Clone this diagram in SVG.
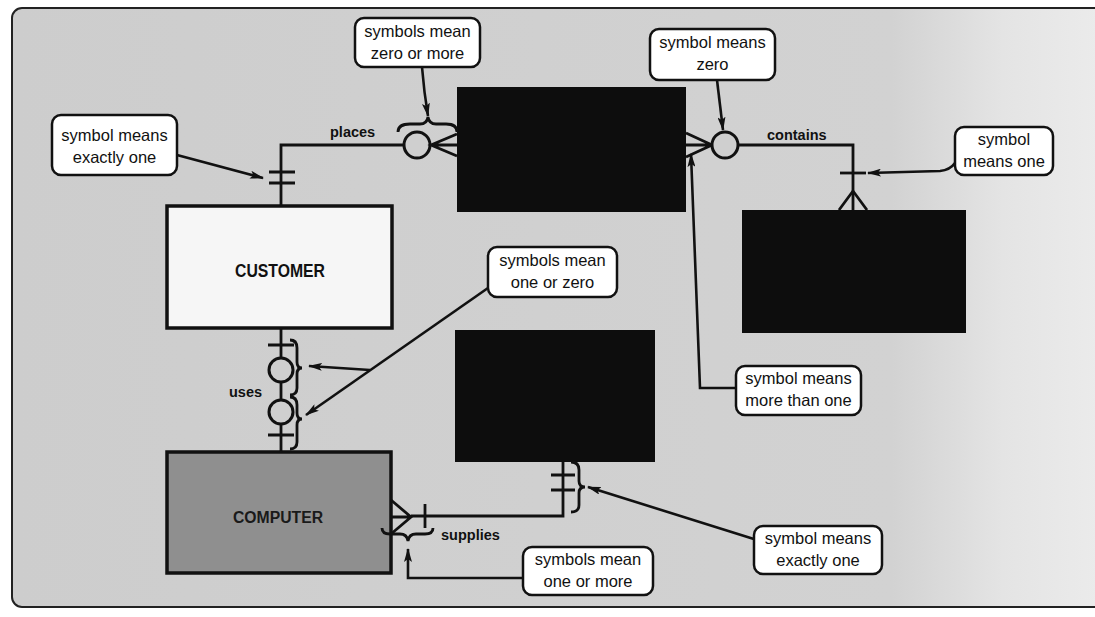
<svg xmlns="http://www.w3.org/2000/svg" width="1095" height="617" viewBox="0 0 1095 617">
<defs>
  <linearGradient id="bg" x1="0" y1="0" x2="1" y2="0">
    <stop offset="0" stop-color="#cdcdcd"/>
    <stop offset="0.8" stop-color="#d2d2d2"/>
    <stop offset="0.9" stop-color="#e4e4e4"/>
    <stop offset="1" stop-color="#ececec"/>
  </linearGradient>
  <marker id="ah" viewBox="0 0 14 8" refX="13" refY="4" markerWidth="14" markerHeight="8" markerUnits="userSpaceOnUse" orient="auto">
    <path d="M0,0 L14,4 L0,8 L3,4 z" fill="#111"/>
  </marker>
  <style>
    .cl { font-family: "Liberation Sans", Arial, sans-serif; font-size: 16.5px; text-anchor: middle; fill: #111; }
    .rel { font-family: "Liberation Sans", Arial, sans-serif; font-size: 14.5px; font-weight: bold; fill: #111; }
    .box { fill: #fff; stroke: #111; stroke-width: 2.5; }
    .ln { fill: none; stroke: #111; stroke-width: 2.8; }
    .arr { fill: none; stroke: #111; stroke-width: 2.6; marker-end: url(#ah); }
    .circ { fill: #cfcfcf; stroke: #111; stroke-width: 3; }
    .blk { fill: #0d0d0d; }
  </style>
</defs>
<rect x="0" y="0" width="1095" height="617" fill="#ffffff"/>
<rect x="12" y="8" width="1100" height="599" rx="10" fill="url(#bg)" stroke="#222" stroke-width="2"/>

<g id="order"><rect class="blk" x="457" y="87" width="229" height="125"/></g>
<g id="product"><rect class="blk" x="742" y="210" width="224" height="123"/></g>
<g id="item"><rect class="blk" x="455" y="330" width="200" height="132"/></g>
<g id="customer">
  <rect x="167" y="206" width="225" height="122" fill="#f6f6f6" stroke="#111" stroke-width="3.5"/>
  <text x="280" y="277" font-family="Liberation Sans, Arial, sans-serif" font-weight="bold" font-size="18" text-anchor="middle" textLength="90" lengthAdjust="spacingAndGlyphs" fill="#111">CUSTOMER</text>
</g>
<g id="computer">
  <rect x="167" y="452" width="224" height="121" fill="#8f8f8f" stroke="#111" stroke-width="3.5"/>
  <text x="278" y="523" font-family="Liberation Sans, Arial, sans-serif" font-weight="bold" font-size="16" text-anchor="middle" textLength="90" lengthAdjust="spacingAndGlyphs" fill="#1a1a1a">COMPUTER</text>
</g>

<g id="connectors">
  <!-- places -->
  <path class="ln" d="M281,206 L281,145 L404,145"/>
  <path class="ln" d="M269,172 L295,172 M269,183 L295,183"/>
  <circle class="circ" cx="417" cy="145" r="13"/>
  <path class="ln" d="M457,134 L431,145 L457,156 M431,145 L457,145"/>
  <path class="ln" d="M398,132 Q398,124 410,124 L420,124 Q427,124 428,117 Q429,124 436,124 L446,124 Q457,124 457,132" stroke-width="2.4"/>
  <text class="rel" x="330" y="137">places</text>
  <!-- contains -->
  <path class="ln" d="M686,133 L712,145 L686,157 M686,145 L712,145"/>
  <circle class="circ" cx="725" cy="145" r="13"/>
  <path class="ln" d="M738,145 L853,145 L853,210"/>
  <path class="ln" d="M840,173 L866,173"/>
  <path class="ln" d="M839,210 L853,191 L867,210"/>
  <text class="rel" x="767" y="140">contains</text>
  <!-- uses -->
  <path class="ln" d="M281,328 L281,358 M281,382 L281,400 M281,424 L281,452"/>
  <path class="ln" d="M268,345 L294,345 M268,435 L294,435"/>
  <circle class="circ" cx="281" cy="370" r="12"/>
  <circle class="circ" cx="281" cy="412" r="12"/>
  <path class="ln" stroke-width="2.4" d="M290,340 Q297,340 297,348 L297,362 Q297,368 302,368 Q297,368 297,374 L297,388 Q297,395 290,395"/>
  <path class="ln" stroke-width="2.4" d="M290,397 Q297,397 297,405 L297,413 Q297,419 302,419 Q297,419 297,425 L297,442 Q297,449 290,449"/>
  <text class="rel" x="229" y="397">uses</text>
  <!-- supplies -->
  <path class="ln" d="M391,500 L411,517 L391,534 M391,517 L411,517"/>
  <path class="ln" d="M411,516 L563,516 L563,462"/>
  <path class="ln" d="M425,504 L425,528"/>
  <path class="ln" d="M551,475 L575,475 M551,490 L575,490"/>
  <path class="ln" stroke-width="2.4" d="M382,528 Q382,534 390,534 L400,534 Q407,534 408,541 Q409,534 416,534 L425,534 Q433,534 433,528"/>
  <path class="ln" stroke-width="2.4" d="M571,462 Q579,462 579,470 L579,481 Q579,487 585,487 Q579,487 579,493 L579,505 Q579,512 571,512"/>
  <text class="rel" x="441" y="540">supplies</text>

  <!-- callout arrows -->
  <path class="arr" d="M177,155 L263,178"/>
  <path class="arr" d="M422,67 Q424,92 428,116"/>
  <path class="arr" d="M717,80 L723,130"/>
  <path class="arr" d="M955,163 Q950,170 940,171 L868,173"/>
  <path class="arr" d="M488,288 L306,415"/>
  <path class="arr" d="M370,370 L309,366"/>
  <path class="arr" d="M736,388 L700,388 L691,154"/>
  <path class="arr" d="M757,540 L588,487"/>
  <path class="arr" d="M523,578 L408,578 L408,549"/>
</g>

<g id="callout-exactly-one-top">
  <rect class="box" x="52" y="115" width="125" height="60" rx="9"/>
  <text class="cl" x="114.5" y="141">symbol means</text>
  <text class="cl" x="114.5" y="163">exactly one</text>
</g>
<g id="callout-zero-or-more">
  <rect class="box" x="355" y="18" width="125" height="49" rx="9"/>
  <text class="cl" x="417.5" y="37">symbols mean</text>
  <text class="cl" x="417.5" y="59">zero or more</text>
</g>
<g id="callout-zero">
  <rect class="box" x="650" y="29" width="125" height="51" rx="9"/>
  <text class="cl" x="712.5" y="48">symbol means</text>
  <text class="cl" x="712.5" y="70">zero</text>
</g>
<g id="callout-one">
  <rect class="box" x="955" y="127" width="98" height="48" rx="9"/>
  <text class="cl" x="1004" y="145">symbol</text>
  <text class="cl" x="1004" y="167">means one</text>
</g>
<g id="callout-one-or-zero">
  <rect class="box" x="488" y="247" width="129" height="50" rx="9"/>
  <text class="cl" x="552.5" y="266">symbols mean</text>
  <text class="cl" x="552.5" y="288">one or zero</text>
</g>
<g id="callout-more-than-one">
  <rect class="box" x="736" y="366" width="125" height="49" rx="9"/>
  <text class="cl" x="798.5" y="384">symbol means</text>
  <text class="cl" x="798.5" y="406">more than one</text>
</g>
<g id="callout-exactly-one-bottom">
  <rect class="box" x="754" y="526" width="128" height="48" rx="9"/>
  <text class="cl" x="818" y="544">symbol means</text>
  <text class="cl" x="818" y="566">exactly one</text>
</g>
<g id="callout-one-or-more">
  <rect class="box" x="523" y="547" width="130" height="48" rx="9"/>
  <text class="cl" x="588" y="565">symbols mean</text>
  <text class="cl" x="588" y="587">one or more</text>
</g>
</svg>
